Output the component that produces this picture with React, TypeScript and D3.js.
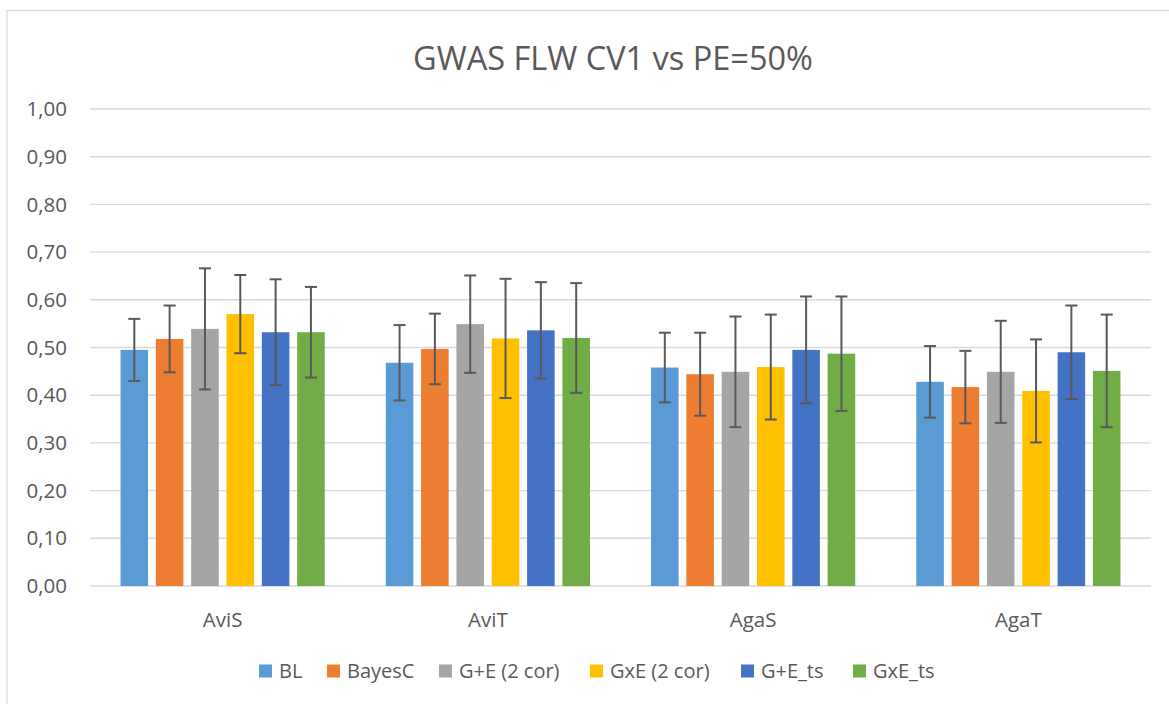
import React from "react";
import * as d3 from "d3";

const categories = ["AviS", "AviT", "AgaS", "AgaT"];
const seriesNames = ["BL", "BayesC", "G+E (2 cor)", "GxE (2 cor)", "G+E_ts", "GxE_ts"];
const seriesColors = ["#5B9BD5", "#ED7D31", "#A5A5A5", "#FFC000", "#4472C4", "#70AD47"];

const blValues = [0.495, 0.468, 0.458, 0.428];
const bayesCValues = [0.518, 0.497, 0.444, 0.417];
const gpe2Values = [0.539, 0.549, 0.449, 0.449];
const gxe2Values = [0.570, 0.519, 0.459, 0.409];
const gpeTsValues = [0.532, 0.536, 0.495, 0.490];
const gxeTsValues = [0.532, 0.520, 0.487, 0.451];

const blErrors = [0.065, 0.079, 0.073, 0.075];
const bayesCErrors = [0.070, 0.074, 0.087, 0.076];
const gpe2Errors = [0.127, 0.102, 0.116, 0.107];
const gxe2Errors = [0.082, 0.125, 0.110, 0.108];
const gpeTsErrors = [0.111, 0.101, 0.112, 0.098];
const gxeTsErrors = [0.095, 0.115, 0.120, 0.118];

const yTicks = [0, 0.1, 0.2, 0.3, 0.4, 0.5, 0.6, 0.7, 0.8, 0.9, 1.0];
const title = "GWAS FLW CV1 vs PE=50%";

const allValues = [blValues, bayesCValues, gpe2Values, gxe2Values, gpeTsValues, gxeTsValues];
const allErrors = [blErrors, bayesCErrors, gpe2Errors, gxe2Errors, gpeTsErrors, gxeTsErrors];

const W = 1169;
const H = 704;
const FONT = "'Open Sans', sans-serif";
const TEXT = "#595959";
const GRID = "#D9D9D9";

export default function App() {
  const left = 90;
  const right = 1151;
  const y = d3.scaleLinear().domain([0, 1]).range([586, 109]);
  const x0 = d3.scaleBand<string>().domain(categories).range([left, right]).padding(0);
  const bw = x0.bandwidth();
  const gw = bw * (204 / 265);
  const x1 = d3
    .scaleBand<string>()
    .domain(seriesNames)
    .range([(bw - gw) / 2, (bw + gw) / 2])
    .paddingInner(0.22)
    .paddingOuter(0);
  const fmt = (v: number) => d3.format(".2f")(v).replace(".", ",");

  const legendStarts = [259, 327, 439, 590, 741, 853];

  return (
    <svg
      width={W}
      height={H}
      style={{ position: "absolute", left: 0, top: 0, background: "#fff" }}
      fontFamily={FONT}
    >
      <rect x={0} y={0} width={W} height={H} fill="#fff" />
      <rect x={7} y={10.5} width={W + 100} height={H + 100} fill="none" stroke={GRID} strokeWidth={1.3} />
      <text x={613} y={70} textAnchor="middle" fontSize={32.5} fill={TEXT}>
        {title}
      </text>
      {yTicks.map((t) => (
        <g key={t}>
          <line x1={left} x2={right} y1={y(t)} y2={y(t)} stroke={GRID} strokeWidth={1.4} />
          <text x={67} y={y(t)} dy="0.35em" textAnchor="end" fontSize={20.5} fill={TEXT}>
            {fmt(t)}
          </text>
        </g>
      ))}
      {categories.map((c, ci) => (
        <g key={c} transform={`translate(${x0(c)},0)`}>
          {seriesNames.map((s, si) => {
            const v = allValues[si][ci];
            const e = allErrors[si][ci];
            const bx = x1(s)!;
            const cx = bx + x1.bandwidth() / 2;
            return (
              <g key={s}>
                <rect
                  x={bx}
                  y={y(v)}
                  width={x1.bandwidth()}
                  height={y(0) - y(v)}
                  fill={seriesColors[si]}
                />
                <line x1={cx} x2={cx} y1={y(v + e)} y2={y(v - e)} stroke="#595959" strokeWidth={2} />
                <line x1={cx - 6} x2={cx + 6} y1={y(v + e)} y2={y(v + e)} stroke="#595959" strokeWidth={2} />
                <line x1={cx - 6} x2={cx + 6} y1={y(v - e)} y2={y(v - e)} stroke="#595959" strokeWidth={2} />
              </g>
            );
          })}
          <text x={bw / 2} y={620} dy="0.35em" textAnchor="middle" fontSize={20.5} fill={TEXT}>
            {c}
          </text>
        </g>
      ))}
      {seriesNames.map((s, si) => (
        <g key={s} transform={`translate(${legendStarts[si]},671)`}>
          <rect x={0} y={-6.5} width={13} height={13} fill={seriesColors[si]} />
          <text x={20} y={0} dy="0.35em" fontSize={20} fill={TEXT}>
            {s}
          </text>
        </g>
      ))}
    </svg>
  );
}
